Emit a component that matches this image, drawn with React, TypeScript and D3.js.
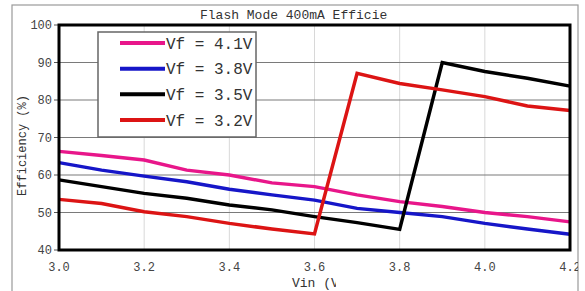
import { useEffect, useRef } from "react";
import * as d3 from "d3";

const vin = [3.0, 3.1, 3.2, 3.3, 3.4, 3.5, 3.6, 3.7, 3.8, 3.9, 4.0, 4.1, 4.2];

const vf41 = [66.3, 65.2, 64.0, 61.3, 60.0, 57.9, 56.9, 54.7, 52.9, 51.6, 50.0, 48.9, 47.5];
const vf38 = [63.3, 61.3, 59.7, 58.2, 56.2, 54.7, 53.3, 51.1, 50.0, 48.9, 47.1, 45.6, 44.2];
const vf35 = [58.7, 56.9, 55.1, 53.8, 52.0, 50.7, 48.9, 47.3, 45.5, 90.0, 87.6, 85.8, 83.7];
const vf32 = [53.5, 52.4, 50.2, 48.9, 47.1, 45.6, 44.3, 87.1, 84.4, 82.7, 80.9, 78.4, 77.2];

const seriesLabels = ["Vf = 4.1V", "Vf = 3.8V", "Vf = 3.5V", "Vf = 3.2V"];
const seriesColors = ["#e8168a", "#1616c8", "#000000", "#dc1414"];

const xTicks = [3.0, 3.2, 3.4, 3.6, 3.8, 4.0, 4.2];
const yTicks = [40, 50, 60, 70, 80, 90, 100];

export default function App() {
  const svgRef = useRef<SVGSVGElement>(null);

  useEffect(() => {
    if (!svgRef.current) return;
    const svg = d3.select(svgRef.current);
    svg.selectAll("*").remove();

    const font = "'Liberation Mono', 'Courier New', monospace";
    const left = 59;
    const right = 570;
    const top = 25;
    const bottom = 250;

    const x = d3.scaleLinear().domain([3.0, 4.2]).range([left, right]);
    const y = d3.scaleLinear().domain([40, 100]).range([bottom, top]);

    const defs = svg.append("defs");
    defs
      .append("clipPath")
      .attr("id", "frameClip")
      .append("rect")
      .attr("x", 0)
      .attr("y", 0)
      .attr("width", 578)
      .attr("height", 291);
    defs
      .append("clipPath")
      .attr("id", "titleClip")
      .append("rect")
      .attr("x", 0)
      .attr("y", 0)
      .attr("width", 388)
      .attr("height", 24);
    defs
      .append("clipPath")
      .attr("id", "xlabClip")
      .append("rect")
      .attr("x", 0)
      .attr("y", 270)
      .attr("width", 336)
      .attr("height", 30);

    // outer frame
    svg
      .append("rect")
      .attr("x", 12)
      .attr("y", 5)
      .attr("width", 566)
      .attr("height", 300)
      .attr("fill", "white")
      .attr("stroke", "#9a9a9a")
      .attr("stroke-width", 1.2);

    const g = svg.append("g").attr("clip-path", "url(#frameClip)");

    // title (cut off like the source)
    g.append("text")
      .attr("clip-path", "url(#titleClip)")
      .attr("x", 200)
      .attr("y", 19)
      .attr("font-family", font)
      .attr("font-size", "13px")
      .attr("fill", "#333")
      .text("Flash Mode 400mA Efficiency");

    // vertical grid
    xTicks.slice(1, -1).forEach((t) => {
      g.append("line")
        .attr("x1", x(t))
        .attr("x2", x(t))
        .attr("y1", top)
        .attr("y2", bottom)
        .attr("stroke", "#d8d8d8")
        .attr("stroke-width", 1);
    });

    // horizontal grid
    yTicks.slice(1, -1).forEach((t) => {
      g.append("line")
        .attr("x1", left)
        .attr("x2", right)
        .attr("y1", y(t))
        .attr("y2", y(t))
        .attr("stroke", "#7a7a7a")
        .attr("stroke-width", 1.2);
    });

    // y ticks + labels
    yTicks.forEach((t) => {
      g.append("line")
        .attr("x1", left - 5)
        .attr("x2", left)
        .attr("y1", y(t))
        .attr("y2", y(t))
        .attr("stroke", "#555");
      g.append("text")
        .attr("x", left - 7)
        .attr("y", y(t))
        .attr("dy", "0.35em")
        .attr("text-anchor", "end")
        .attr("font-family", font)
        .attr("font-size", "12px")
        .attr("fill", "#444")
        .text(String(t));
    });

    // x labels
    xTicks.forEach((t) => {
      g.append("text")
        .attr("x", x(t))
        .attr("y", 271)
        .attr("text-anchor", "middle")
        .attr("font-family", font)
        .attr("font-size", "12px")
        .attr("fill", "#444")
        .text(t.toFixed(1));
    });

    // axis titles
    g.append("text")
      .attr("clip-path", "url(#xlabClip)")
      .attr("x", 292)
      .attr("y", 287)
      .attr("font-family", font)
      .attr("font-size", "13px")
      .attr("fill", "#333")
      .text("Vin (V)");

    g.append("text")
      .attr("transform", `translate(26,${(top + bottom) / 2 + 8}) rotate(-90)`)
      .attr("text-anchor", "middle")
      .attr("font-family", font)
      .attr("font-size", "12px")
      .attr("fill", "#333")
      .text("Efficiency (%)");

    // series
    const allSeries = [vf41, vf38, vf35, vf32];
    const line = d3
      .line<number>()
      .x((_, i) => x(vin[i]))
      .y((d) => y(d));

    allSeries.forEach((s, i) => {
      g.append("path")
        .datum(s)
        .attr("fill", "none")
        .attr("stroke", seriesColors[i])
        .attr("stroke-width", 3.5)
        .attr("stroke-linejoin", "miter")
        .attr("d", line);
    });

    // plot border
    g.append("rect")
      .attr("x", left)
      .attr("y", top)
      .attr("width", right - left)
      .attr("height", bottom - top)
      .attr("fill", "none")
      .attr("stroke", "#000")
      .attr("stroke-width", 3);

    // legend
    const lg = g.append("g");
    lg.append("rect")
      .attr("x", 98)
      .attr("y", 32)
      .attr("width", 158)
      .attr("height", 105)
      .attr("fill", "white")
      .attr("stroke", "#666")
      .attr("stroke-width", 1.5);

    const legendY = d3.scaleLinear().domain([0, 3]).range([43, 120]);
    seriesLabels.forEach((lab, i) => {
      lg.append("line")
        .attr("x1", 120)
        .attr("x2", 165)
        .attr("y1", legendY(i))
        .attr("y2", legendY(i))
        .attr("stroke", seriesColors[i])
        .attr("stroke-width", 4);
      lg.append("text")
        .attr("x", 166)
        .attr("y", legendY(i))
        .attr("dy", "0.35em")
        .attr("font-family", font)
        .attr("font-size", "16px")
        .attr("fill", "#333")
        .style("white-space", "pre")
        .text(lab);
    });
  }, []);

  return (
    <svg
      ref={svgRef}
      width={585}
      height={291}
      style={{ position: "absolute", left: 0, top: 0, background: "white" }}
    ></svg>
  );
}
